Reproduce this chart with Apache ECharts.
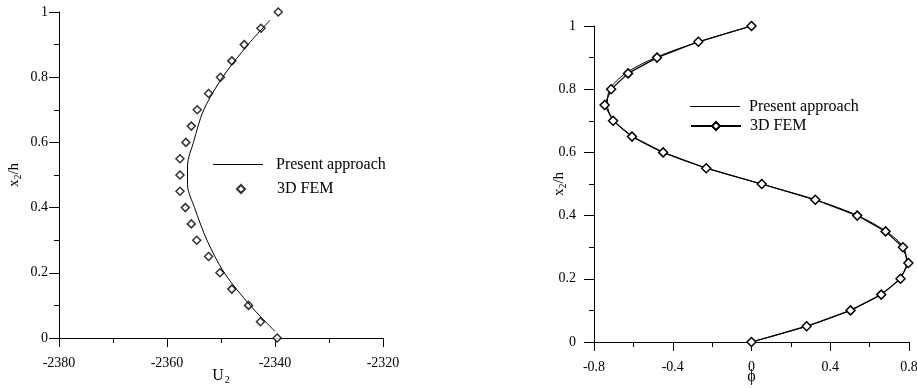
<!DOCTYPE html>
<html><head><meta charset="utf-8">
<script src="https://cdn.jsdelivr.net/npm/echarts@6/dist/echarts.min.js"></script>
<style>html,body{margin:0;padding:0;background:#fff}#c{width:917px;height:388px}</style>
</head><body><div id="c"></div>
<script>
// ---- data ----
const femH = [0,0.05,0.1,0.15,0.2,0.25,0.3,0.35,0.4,0.45,0.5,0.55,0.6,0.65,0.7,0.75,0.8,0.85,0.9,0.95,1];
const femU = [-2339.6,-2342.7,-2344.9,-2348.0,-2350.2,-2352.3,-2354.5,-2355.5,-2356.6,-2357.6,-2357.6,-2357.6,-2356.5,-2355.5,-2354.4,-2352.3,-2350.1,-2348.0,-2345.7,-2342.6,-2339.4];
const presentUH = [0.02,0.1,0.2,0.3,0.4,0.47,0.53,0.6,0.7,0.8,0.9,0.975];
const presentU = [-2340.0,-2344.6,-2349.4,-2352.6,-2354.9,-2356.2,-2356.2,-2355.1,-2353.2,-2349.7,-2345.0,-2340.9];
const femPhi = [0,0.280,0.503,0.659,0.757,0.797,0.769,0.681,0.537,0.324,0.052,-0.230,-0.449,-0.607,-0.703,-0.746,-0.713,-0.627,-0.480,-0.270,0];
const presentPhiH = [0,0.05,0.1,0.15,0.2,0.25,0.3,0.35,0.4,0.45,0.5,0.55,0.6,0.65,0.7,0.75,0.8,0.85,0.9,0.95,1];
const presentPhi = [0,0.282,0.500,0.655,0.752,0.787,0.772,0.684,0.540,0.326,0.050,-0.228,-0.448,-0.603,-0.698,-0.732,-0.720,-0.640,-0.488,-0.268,0];
const uTicks = [-2380,-2360,-2340,-2320];
const phiTicks = [-0.8,-0.4,0,0.4,0.8];
const hTicks = [0,0.2,0.4,0.6,0.8,1];
const legendNames = ['Present approach','3D FEM'];

const pairs = (xs, ys) => xs.map((x, i) => [x, ys[i]]);
const FONT = 'Liberation Serif';
const BLACK = '#000';

function xAxisCfg(idx, min, max, interval, name, nameGap) {
  return {
    type: 'value', gridIndex: idx, min: min, max: max, interval: interval,
    axisLine: {show: true, onZero: false, lineStyle: {color: BLACK, width: 1}},
    axisTick: {show: true, inside: false, length: 9, lineStyle: {color: BLACK}},
    minorTick: {show: true, splitNumber: 2, length: 5, lineStyle: {color: BLACK}},
    splitLine: {show: false}, minorSplitLine: {show: false},
    axisLabel: {color: BLACK, fontFamily: FONT, fontSize: 14, margin: 18,
                formatter: v => String(Math.round(v * 100) / 100)},
    name: name, nameLocation: 'middle', nameGap: nameGap, nameMoveOverlap: false,
    nameTextStyle: {color: BLACK, fontFamily: FONT, fontSize: 16,
      rich: {s: {fontFamily: FONT, fontSize: 10, color: BLACK, padding: [8, 0, 0, 1]}}}
  };
}
function yAxisCfg(idx, labelMargin, nameGap) {
  return {
    type: 'value', gridIndex: idx, min: hTicks[0], max: hTicks[hTicks.length - 1], interval: 0.2,
    axisLine: {show: true, onZero: false, lineStyle: {color: BLACK, width: 1}},
    axisTick: {show: true, inside: false, length: 10, lineStyle: {color: BLACK}},
    minorTick: {show: true, splitNumber: 2, length: 5, lineStyle: {color: BLACK}},
    splitLine: {show: false}, minorSplitLine: {show: false},
    axisLabel: {color: BLACK, fontFamily: FONT, fontSize: 14, margin: labelMargin,
                formatter: v => String(Math.round(v * 100) / 100)},
    name: 'x{s|2}/h', nameLocation: 'middle', nameGap: nameGap, nameMoveOverlap: false,
    nameTextStyle: {color: BLACK, fontFamily: FONT, fontSize: 15,
      rich: {s: {fontFamily: FONT, fontSize: 10, color: BLACK, padding: [7, 0, 0, 0]}}}
  };
}
function legendCfg(name, left, top, w, h, padLeft, icon) {
  const item = icon ? {name: name, icon: icon} : {name: name};
  return {
    data: [item], left: left, top: top, itemWidth: w, itemHeight: h, padding: 0,
    formatter: n => n.slice(2), selectedMode: false,
    textStyle: {color: BLACK, fontFamily: FONT, fontSize: 16, lineHeight: 16, padding: [0, 0, 0, padLeft]}
  };
}

const chart = echarts.init(document.getElementById('c'), null, {renderer: 'canvas'});
chart.setOption({
  animation: false,
  backgroundColor: '#fff',
  grid: [
    {left: 59, top: 12, width: 324, height: 326, outerBoundsMode: 'none', containLabel: false},
    {left: 594, top: 26, width: 315, height: 316, outerBoundsMode: 'none', containLabel: false}
  ],
  xAxis: [
    xAxisCfg(0, uTicks[0], uTicks[uTicks.length - 1], 20, 'U{s|2}', 29),
    xAxisCfg(1, phiTicks[0], phiTicks[phiTicks.length - 1], 0.4, '\u03D5', 27)
  ],
  yAxis: [yAxisCfg(0, 11, 36), yAxisCfg(1, 18, 26)],
  legend: [
    legendCfg('L:' + legendNames[0], 213, 156.5, 50, 1, 8, 'rect'),
    legendCfg('L:' + legendNames[1], 236, 181, 8, 8, 27, 'diamond'),
    legendCfg('R:' + legendNames[0], 690, 98.5, 50, 1, 4, 'rect'),
    legendCfg('R:' + legendNames[1], 690, 118, 50, 10, 4, null)
  ],
  series: [
    {name: 'L:' + legendNames[0], type: 'line', xAxisIndex: 0, yAxisIndex: 0,
     data: pairs(presentU, presentUH), symbol: 'none', smooth: 0.3,
     lineStyle: {color: BLACK, width: 1}, itemStyle: {color: BLACK}},
    {name: 'L:' + legendNames[1], type: 'scatter', xAxisIndex: 0, yAxisIndex: 0,
     data: pairs(femU, femH), symbol: 'diamond', symbolSize: 8,
     itemStyle: {color: '#fff', borderColor: BLACK, borderWidth: 1.5}},
    {name: 'R:' + legendNames[0], type: 'line', xAxisIndex: 1, yAxisIndex: 1,
     data: pairs(presentPhi, presentPhiH), symbol: 'none', smooth: 0.3,
     lineStyle: {color: BLACK, width: 1}, itemStyle: {color: BLACK}},
    {name: 'R:' + legendNames[1], type: 'line', xAxisIndex: 1, yAxisIndex: 1,
     data: pairs(femPhi, femH), symbol: 'diamond', symbolSize: 9, showAllSymbol: true,
     lineStyle: {color: BLACK, width: 1.2},
     itemStyle: {color: '#fff', borderColor: BLACK, borderWidth: 1.5}, z: 3}
  ]
});
</script></body></html>
